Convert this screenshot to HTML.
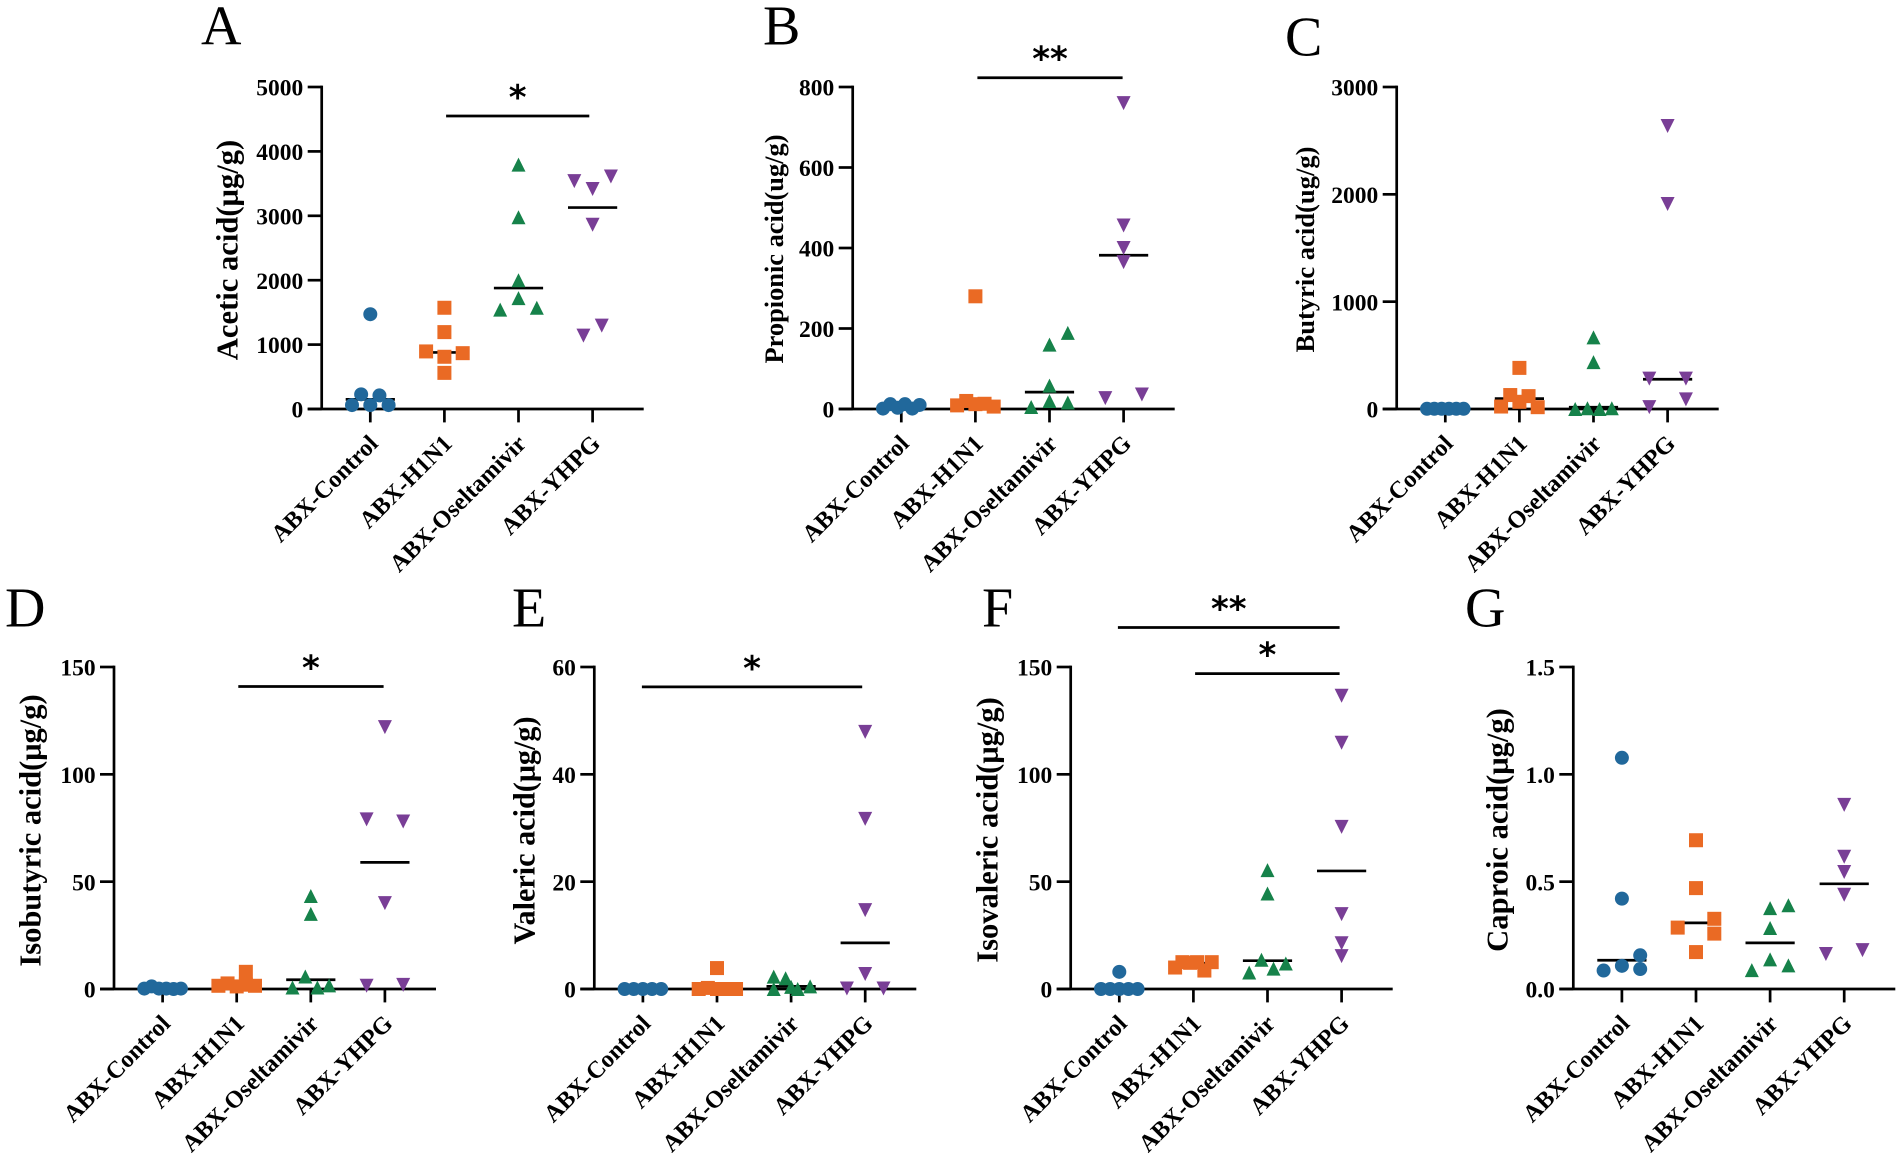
<!DOCTYPE html>
<html lang="en">
<head>
<meta charset="utf-8">
<title>Short-chain fatty acid concentrations</title>
<style>
html,body{margin:0;padding:0;background:#fff;}
svg{display:block;}
text{font-family:"Liberation Serif",serif;fill:#000;}
.tick{font-weight:bold;font-size:23.5px;}
.xlab{font-weight:bold;font-size:24.2px;}
.ttl{font-weight:bold;}
.let{font-size:56px;}
.star{font-family:"DejaVu Sans",sans-serif;font-weight:bold;font-size:34px;}
</style>
</head>
<body>
<svg id="figure" xmlns="http://www.w3.org/2000/svg" width="1902" height="1158" viewBox="0 0 1902 1158"></svg>
<script>
const categories = ['ABX-Control','ABX-H1N1','ABX-Oseltamivir','ABX-YHPG'];

const aceticTicks = ['0','1000','2000','3000','4000','5000'];
const aceticValues = [[1472,228,211,61,61,61],[1572,1194,894,867,811,561],[3794,2978,2000,1722,1544,1572],[3611,3539,3417,2861,1294,1139]];
const aceticSlots = [[0,-0.5,0.5,-1,0,1],[0,0,-1,1,0,0],[0,0,0,0,-1,1],[1,-1,0,0,0.5,-0.5]];
const aceticMedians = [150,878,1878,3128];

const propionicTicks = ['0','200','400','600','800'];
const propionicValues = [[1,12,3,12,1,10],[280,9,20,12,13,6],[160,189,58,20,16,5],[760,456,400,365,27,36]];
const propionicSlots = [[-1,-0.6,-0.2,0.2,0.6,1],[0,-1,-0.5,0,0.5,1],[0,1,0,0,1,-1],[0,0,0,0,-1,1]];
const propionicMedians = [4,14,42,382];

const butyricTicks = ['0','1000','2000','3000'];
const butyricValues = [[2,2,2,2,2,2],[383,130,120,23,67,17],[667,437,0,7,0,7],[2637,1910,283,283,90,17]];
const butyricSlots = [[-1,-0.6,-0.2,0.2,0.6,1],[0,-0.5,0.5,-1,0,1],[0,0,-1,-0.33,0.33,1],[0,0,-1,1,1,-1]];
const butyricMedians = [2,97,17,277];

const isobutyricTicks = ['0','50','100','150'];
const isobutyricValues = [[0.2,1.2,0.2,0.2,0,0.2],[1.5,2.6,1.2,8,2,1.5],[43.3,35,5.8,1.7,0.7,0.7],[122,79,78,40,1.5,1.9]];
const isobutyricSlots = [[-1,-0.6,-0.2,0.2,0.6,1],[-1,-0.5,0,0.5,0.5,1],[0,0,-0.3,1,-1,0.36],[0,-1,1,0,-1,1]];
const isobutyricMedians = [0.2,1.8,4.3,59];

const valericTicks = ['0','20','40','60'];
const valericValues = [[0,0,0,0,0],[3.9,0,0.2,0,0,0],[2.3,2,0,0,0.5,0.4],[47.9,31.7,14.7,2.8,0.1,0.1]];
const valericSlots = [[-1,-0.5,0,0.5,1],[0,-1,-0.5,0,0.53,1.04],[-0.95,-0.3,-0.95,0.36,1.04,0],[0,0,0,0,-1,1]];
const valericMedians = [0,0.1,0.5,8.6];

const isovalericTicks = ['0','50','100','150'];
const isovalericValues = [[8,0,0,0,0,0],[10,12.5,12.2,12.5,8.6,12.5],[55.4,44.5,13.6,11.9,9.5,7.7],[136.6,114.7,75.5,34.9,21.3,15.3]];
const isovalericSlots = [[0,-1,-0.5,0,0.5,1],[-1,-0.6,-0.18,0.2,0.6,1],[0,0,-0.33,1,0.33,-1],[0,0,0,0,0,0]];
const isovalericMedians = [0,12,13.2,55];

const caproicTicks = ['0.0','0.5','1.0','1.5'];
const caproicValues = [[1.077,0.421,0.157,0.108,0.093,0.086],[0.693,0.47,0.327,0.286,0.258,0.172],[0.39,0.377,0.284,0.138,0.11,0.088],[0.858,0.616,0.545,0.439,0.181,0.163]];
const caproicSlots = [[0,0,1,0,1,-1],[0,0,1,-1,1,0],[1,0,0,0,1,-1],[0,0,0,0,1,-1]];
const caproicMedians = [0.134,0.308,0.215,0.49];

const colors = ['#21689b','#ea6a24','#16824a','#793e96'];
const svgNS = 'http://www.w3.org/2000/svg';
const figure = document.getElementById('figure');

function make(tag, parent, attrs, content) {
  const node = document.createElementNS(svgNS, tag);
  for (const key in attrs) node.setAttribute(key, attrs[key]);
  if (content !== undefined) node.textContent = content;
  parent.appendChild(node);
  return node;
}

function drawMarker(parent, kind, cx, cy, color) {
  const s = 7;
  if (kind === 0) return make('ellipse', parent, {cx: cx, cy: cy, rx: s, ry: s, fill: color});
  if (kind === 1) return make('rect', parent, {x: cx - s, y: cy - s, width: 2 * s, height: 2 * s, fill: color});
  if (kind === 2) return make('polygon', parent, {points: [cx, cy - s, cx + s, cy + s, cx - s, cy + s].join(','), fill: color});
  return make('polygon', parent, {points: [cx - s, cy - s, cx + s, cy - s, cx, cy + s].join(','), fill: color});
}

function drawPanel(p) {
  const group = make('g', figure, {});
  
  

  const yScale = function (v) { return p.bottom - (v / p.yMax) * (p.bottom - p.top); };
  const xScale = function (i) { return p.axisX + 48.6 + 74.1 * i; };
  const slotStep = 18.3;
  const black = {stroke: '#000', 'stroke-width': 2.7, fill: 'none'};

  const letter = make('text', group, {x: p.letterX, y: p.letterY, class: 'let'}, p.letter);
  
  

  const title = make('text', group, {
    class: 'ttl', 'text-anchor': 'middle', 'font-size': p.titleSize,
    transform: 'translate(' + (p.axisX - p.titleOffset) + ',' + p.titleY + ') rotate(-90)'
  }, p.title);
  
  

  const yAxis = make('line', group, Object.assign({x1: p.axisX, x2: p.axisX, y1: p.top - 1.35, y2: p.bottom}, black));
  
  

  const xAxis = make('line', group, Object.assign({x1: p.axisX - 14, x2: p.axisX + 322, y1: p.bottom, y2: p.bottom}, black));
  
  

  p.ticks.forEach(function (label) {
    const ty = yScale(parseFloat(label));
    const tick = make('line', group, Object.assign({x1: p.axisX - 14, x2: p.axisX, y1: ty, y2: ty}, black));
    
    
    const tickLabel = make('text', group, {x: p.axisX - 18.4, y: ty + 8.6, class: 'tick', 'text-anchor': 'end'}, label);
    
    
  });

  categories.forEach(function (cat, i) {
    const tx = xScale(i);
    const tick = make('line', group, Object.assign({x1: tx, x2: tx, y1: p.bottom, y2: p.bottom + 13.4}, black));
    
    
    const catLabel = make('text', group, {
      class: 'xlab', 'text-anchor': 'end',
      transform: 'translate(' + (tx + 9) + ',' + (p.bottom + 36) + ') rotate(-45)'
    }, cat);
    
    
  });

  categories.forEach(function (cat, i) {
    const my = yScale(p.medians[i]);
    const median = make('line', group, Object.assign({x1: xScale(i) - 24.6, x2: xScale(i) + 24.6, y1: my, y2: my}, black));
    
    
  });

  categories.forEach(function (cat, i) {
    p.values[i].forEach(function (v, k) {
      const point = drawMarker(group, i, xScale(i) + p.slots[i][k] * slotStep, yScale(v), colors[i]);
      
      
    });
  });

  p.brackets.forEach(function (b) {
    const by = yScale(b.level);
    const bar = make('line', group, Object.assign({x1: xScale(b.from) + b.dxFrom, x2: xScale(b.to) + b.dxTo, y1: by, y2: by}, black));
    
    
    const star = make('text', group, {
      x: (xScale(b.from) + b.dxFrom + xScale(b.to) + b.dxTo) / 2 + b.dxStar, y: by - 7,
      class: 'star', 'text-anchor': 'middle'
    }, b.mark);
    
    
  });
}

drawPanel({letter:'A', letterX:201, letterY:44.6, title:'Acetic acid(μg/g)', titleSize:30.6, titleOffset:84.4, titleY:250,
  axisX:321.7, top:87, bottom:409, yMax:5000, ticks:aceticTicks, values:aceticValues, slots:aceticSlots, medians:aceticMedians,
  brackets:[{from:1,to:3,dxFrom:1.7,dxTo:-3.3,dxStar:0,level:4550,mark:'*'}]});
drawPanel({letter:'B', letterX:763, letterY:44.3, title:'Propionic acid(ug/g)', titleSize:26.4, titleOffset:69.7, titleY:249,
  axisX:852.7, top:87, bottom:409, yMax:800, ticks:propionicTicks, values:propionicValues, slots:propionicSlots, medians:propionicMedians,
  brackets:[{from:1,to:3,dxFrom:2,dxTo:-1,dxStar:0,level:823,mark:'**'}]});
drawPanel({letter:'C', letterX:1285, letterY:55.3, title:'Butyric acid(ug/g)', titleSize:26.6, titleOffset:82.7, titleY:249.5,
  axisX:1396.7, top:87, bottom:409, yMax:3000, ticks:butyricTicks, values:butyricValues, slots:butyricSlots, medians:butyricMedians,
  brackets:[]});
drawPanel({letter:'D', letterX:5, letterY:626.3, title:'Isobutyric acid(μg/g)', titleSize:30.5, titleOffset:73.3, titleY:830.5,
  axisX:114, top:667, bottom:989, yMax:150, ticks:isobutyricTicks, values:isobutyricValues, slots:isobutyricSlots, medians:isobutyricMedians,
  brackets:[{from:1,to:3,dxFrom:1.6,dxTo:-1.3,dxStar:0,level:140.9,mark:'*'}]});
drawPanel({letter:'E', letterX:512, letterY:626.3, title:'Valeric acid(μg/g)', titleSize:30.2, titleOffset:60, titleY:830.5,
  axisX:594.3, top:667, bottom:989, yMax:60, ticks:valericTicks, values:valericValues, slots:valericSlots, medians:valericMedians,
  brackets:[{from:0,to:3,dxFrom:-1,dxTo:-3,dxStar:0,level:56.3,mark:'*'}]});
drawPanel({letter:'F', letterX:982, letterY:626.3, title:'Isovaleric acid(μg/g)', titleSize:30.5, titleOffset:73, titleY:830,
  axisX:1070.7, top:667, bottom:989, yMax:150, ticks:isovalericTicks, values:isovalericValues, slots:isovalericSlots, medians:isovalericMedians,
  brackets:[{from:0,to:3,dxFrom:-1.4,dxTo:-2,dxStar:0,level:168.4,mark:'**'},{from:1,to:3,dxFrom:1.7,dxTo:-2,dxStar:0,level:146.9,mark:'*'}]});
drawPanel({letter:'G', letterX:1465, letterY:626.5, title:'Caproic acid(μg/g)', titleSize:30.6, titleOffset:66, titleY:830,
  axisX:1573.3, top:667, bottom:989, yMax:1.5, ticks:caproicTicks, values:caproicValues, slots:caproicSlots, medians:caproicMedians,
  brackets:[]});
</script>
</body>
</html>
